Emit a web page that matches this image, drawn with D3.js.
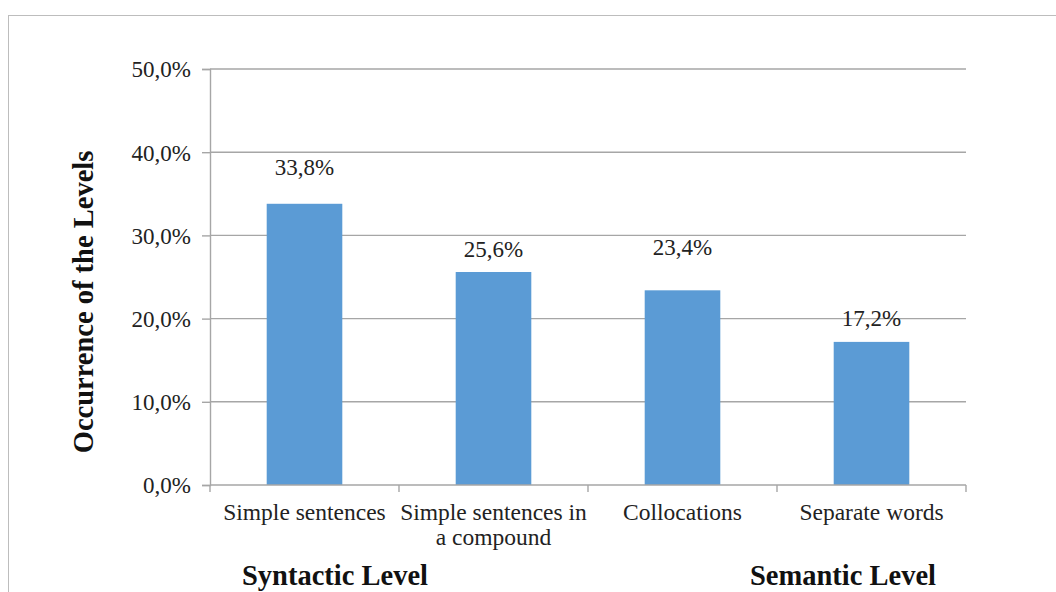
<!DOCTYPE html>
<html>
<head>
<meta charset="utf-8">
<script src="https://cdn.jsdelivr.net/npm/d3@7"></script>
<style>
  html, body { margin: 0; padding: 0; background: #fff; }
  svg { display: block; }
</style>
</head>
<body>
<svg id="chart" width="1056" height="592"></svg>
<script>
const categories = ["Simple sentences", "Simple sentences in a compound", "Collocations", "Separate words"];
const categoryLines = [["Simple sentences"], ["Simple sentences in", "a compound"], ["Collocations"], ["Separate words"]];
const values = [33.8, 25.6, 23.4, 17.2];
const valueLabels = ["33,8%", "25,6%", "23,4%", "17,2%"];
const yTicks = [0, 10, 20, 30, 40, 50];
const yTickLabels = ["0,0%", "10,0%", "20,0%", "30,0%", "40,0%", "50,0%"];
const yTitle = "Occurrence of the Levels";
const groupTitles = ["Syntactic Level", "Semantic Level"];

const svg = d3.select("#chart");
const W = 1056, H = 592;
const plot = { left: 210, right: 966, top: 69, bottom: 485 };
const serif = "'Liberation Serif', 'Times New Roman', serif";
const gridColor = "#a6a6a6";

// outer border
svg.append("rect")
  .attr("x", 8.5).attr("y", 15.5)
  .attr("width", W + 10).attr("height", H + 10)
  .attr("fill", "none").attr("stroke", "#bdbdbd").attr("stroke-width", 1);

const x = d3.scaleBand().domain(categories).range([plot.left, plot.right])
  .paddingInner(0.6).paddingOuter(0.3);
const y = d3.scaleLinear().domain([0, 50]).range([plot.bottom, plot.top]);

// gridlines
svg.append("g").selectAll("line").data(yTicks.filter(d => d > 0)).join("line")
  .attr("x1", plot.left).attr("x2", plot.right)
  .attr("y1", d => y(d)).attr("y2", d => y(d))
  .attr("stroke", gridColor).attr("stroke-width", 1.4);

// bars
svg.append("g").selectAll("rect").data(values).join("rect")
  .attr("x", (d, i) => x(categories[i]))
  .attr("width", x.bandwidth())
  .attr("y", d => y(d))
  .attr("height", d => y(0) - y(d))
  .attr("fill", "#5b9bd5");

// y axis
const yAxis = d3.axisLeft(y).tickValues(yTicks)
  .tickFormat((d, i) => yTickLabels[i]).tickSize(8).tickPadding(11);
const gy = svg.append("g").attr("transform", `translate(${plot.left},0)`).call(yAxis);
gy.select(".domain").attr("stroke", gridColor).attr("stroke-width", 1.4);
gy.selectAll(".tick line").attr("stroke", gridColor).attr("stroke-width", 1.4);
gy.selectAll(".tick text").attr("font-family", serif).attr("font-size", 23)
  .attr("fill", "#222").attr("dy", "0.34em");

// x axis
svg.append("line")
  .attr("x1", plot.left).attr("x2", plot.right)
  .attr("y1", plot.bottom).attr("y2", plot.bottom)
  .attr("stroke", gridColor).attr("stroke-width", 1.4);
const tickXs = d3.range(categories.length + 1).map(i => plot.left + i * x.step());
svg.append("g").selectAll("line").data(tickXs).join("line")
  .attr("x1", d => d).attr("x2", d => d)
  .attr("y1", plot.bottom).attr("y2", plot.bottom + 7)
  .attr("stroke", gridColor).attr("stroke-width", 1.4);

// category labels
const catG = svg.append("g");
categoryLines.forEach((lines, i) => {
  const cx = x(categories[i]) + x.bandwidth() / 2;
  const t = catG.append("text")
    .attr("x", cx).attr("y", 520)
    .attr("text-anchor", "middle")
    .attr("font-family", serif).attr("font-size", 23.5).attr("fill", "#222");
  lines.forEach((ln, j) => {
    t.append("tspan").attr("x", cx).attr("dy", j === 0 ? 0 : 25).text(ln);
  });
});

// value labels (offsets above bar tops as placed in the original)
const labelGap = [29, 15, 35, 16];
svg.append("g").selectAll("text").data(values).join("text")
  .attr("x", (d, i) => x(categories[i]) + x.bandwidth() / 2)
  .attr("y", (d, i) => y(d) - labelGap[i])
  .attr("text-anchor", "middle")
  .attr("font-family", serif).attr("font-size", 23).attr("fill", "#222")
  .text((d, i) => valueLabels[i]);

// y title
svg.append("text")
  .attr("transform", `translate(93,${(plot.top + plot.bottom) / 2 + 25}) rotate(-90)`)
  .attr("text-anchor", "middle")
  .attr("font-family", serif).attr("font-size", 28.5).attr("font-weight", "bold")
  .attr("fill", "#111")
  .text(yTitle);

// group titles
svg.append("text")
  .attr("x", 242).attr("y", 585)
  .attr("font-family", serif).attr("font-size", 28.5).attr("font-weight", "bold")
  .attr("fill", "#111").text(groupTitles[0]);
svg.append("text")
  .attr("x", 750).attr("y", 585)
  .attr("font-family", serif).attr("font-size", 28.5).attr("font-weight", "bold")
  .attr("fill", "#111").text(groupTitles[1]);
</script>
</body>
</html>
